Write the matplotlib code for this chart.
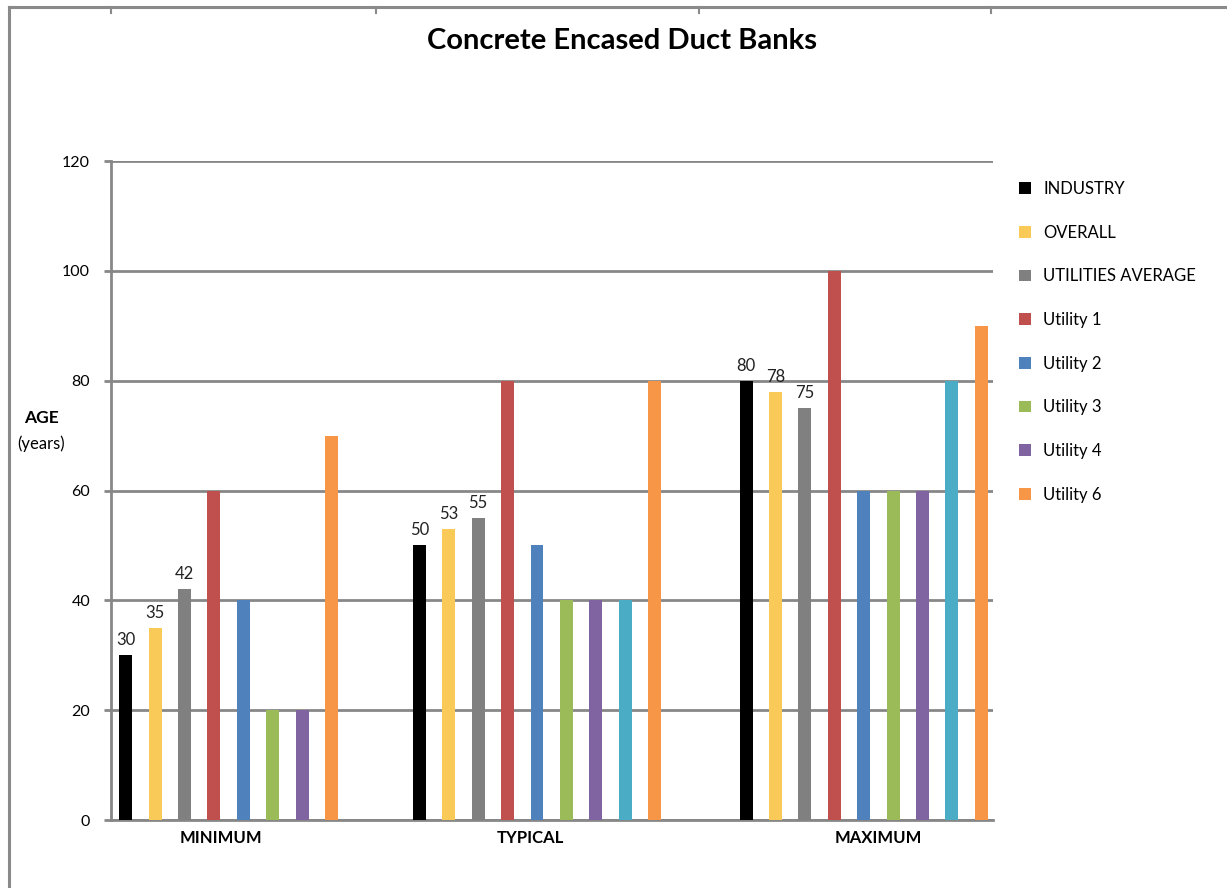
import matplotlib
matplotlib.use("Agg")
import matplotlib.pyplot as plt
from matplotlib.lines import Line2D
import numpy as np

# ---- data ----
categories = ["MINIMUM", "TYPICAL", "MAXIMUM"]
series_names = ["INDUSTRY", "OVERALL", "UTILITIES AVERAGE", "Utility 1", "Utility 2",
                "Utility 3", "Utility 4", "Utility 5", "Utility 6"]
industry = [30, 50, 80]
overall = [35, 53, 78]
utilities_average = [42, 55, 75]
utility_1 = [60, 80, 100]
utility_2 = [40, 50, 60]
utility_3 = [20, 40, 60]
utility_4 = [20, 40, 60]
utility_5 = [None, 40, 80]
utility_6 = [70, 80, 90]
labelled_series = ["INDUSTRY", "OVERALL", "UTILITIES AVERAGE"]
legend_series = ["INDUSTRY", "OVERALL", "UTILITIES AVERAGE", "Utility 1", "Utility 2",
                 "Utility 3", "Utility 4", "Utility 6"]
y_ticks = [0, 20, 40, 60, 80, 100, 120]

series_values = [industry, overall, utilities_average, utility_1, utility_2,
                 utility_3, utility_4, utility_5, utility_6]
colors = ["#000000", "#F9CA57", "#808080", "#C0504D", "#4F81BD",
          "#9BBB59", "#8064A2", "#4BACC6", "#F79646"]

# ---- layout ----
W, H = 1227, 888
fig = plt.figure(figsize=(W / 100, H / 100), dpi=100)
plt.rcParams["font.family"] = ["Lato", "DejaVu Sans"]

ax_left, ax_right, ax_top, ax_bottom = 111, 993, 161, 820
ax = fig.add_axes([ax_left / W, 1 - ax_bottom / H,
                   (ax_right - ax_left) / W, (ax_bottom - ax_top) / H])

group_centres = [0.40, 1.449, 2.56]
label_centres = [0.374, 1.425, 2.609]
slot = 0.1
bar_w = 0.044
grid_col = "#878787"

handles = {}
for gi, centre in enumerate(group_centres):
    present = [si for si, vals in enumerate(series_values) if vals[gi] is not None]
    n = len(present)
    for k, si in enumerate(present):
        x = centre + (k - (n - 1) / 2) * slot
        v = series_values[si][gi]
        b = ax.bar(x, v, width=bar_w, color=colors[si], zorder=3)
        handles[series_names[si]] = b
        if series_names[si] in labelled_series:
            ax.annotate(f"{v:g}", (x, v), xytext=(0, 5), textcoords="offset points",
                        ha="center", va="bottom", fontsize=12, color="#222222")

ax.set_xlim(0, 3)
ax.set_ylim(0, 120)
ax.set_yticks(y_ticks)
ax.set_yticklabels([str(t) for t in y_ticks], fontsize=11.5)
ax.yaxis.grid(True, color=grid_col, linewidth=2.0, zorder=0)
ax.set_axisbelow(True)
ax.tick_params(axis="y", length=5, width=2.0, color=grid_col, pad=10)
ax.set_xticks(label_centres)
ax.set_xticklabels(categories, fontsize=12, fontweight="bold")
ax.tick_params(axis="x", length=0, pad=7)
for side in ["top", "right"]:
    ax.spines[side].set_visible(False)
for side in ["left", "bottom"]:
    ax.spines[side].set_color(grid_col)
    ax.spines[side].set_linewidth(2.0)

# title and y label
fig.text(622 / W, 1 - 41 / H, "Concrete Encased Duct Banks", ha="center", va="center",
         fontsize=21, fontweight="bold")
fig.text(41 / W, 1 - 418 / H, "AGE", ha="center", va="center", fontsize=12.5, fontweight="bold")
fig.text(41 / W, 1 - 444 / H, "(years)", ha="center", va="center", fontsize=12)

# legend
leg = fig.legend([handles[n] for n in legend_series], legend_series,
                 loc="upper left", bbox_to_anchor=(1019 / W, 1 - 181 / H),
                 frameon=False, fontsize=12, labelspacing=1.66,
                 handlelength=0.7, handleheight=0.7, handletextpad=0.75,
                 borderpad=0, borderaxespad=0)

# outer frame with small ticks along the top edge
fig.add_artist(Line2D([9 / W, 9 / W], [0, 1 - 7 / H], color="#8a8a8a", lw=2.2,
                      transform=fig.transFigure))
fig.add_artist(Line2D([9 / W, 1], [1 - 7 / H, 1 - 7 / H], color="#8a8a8a", lw=2.2,
                      transform=fig.transFigure))
for tx in [111, 376, 699, 991]:
    fig.add_artist(Line2D([tx / W, tx / W], [1 - 7 / H, 1 - 13 / H], color="#8a8a8a",
                          lw=1.5, transform=fig.transFigure))

fig.savefig("out.png", dpi=100, facecolor="white")
